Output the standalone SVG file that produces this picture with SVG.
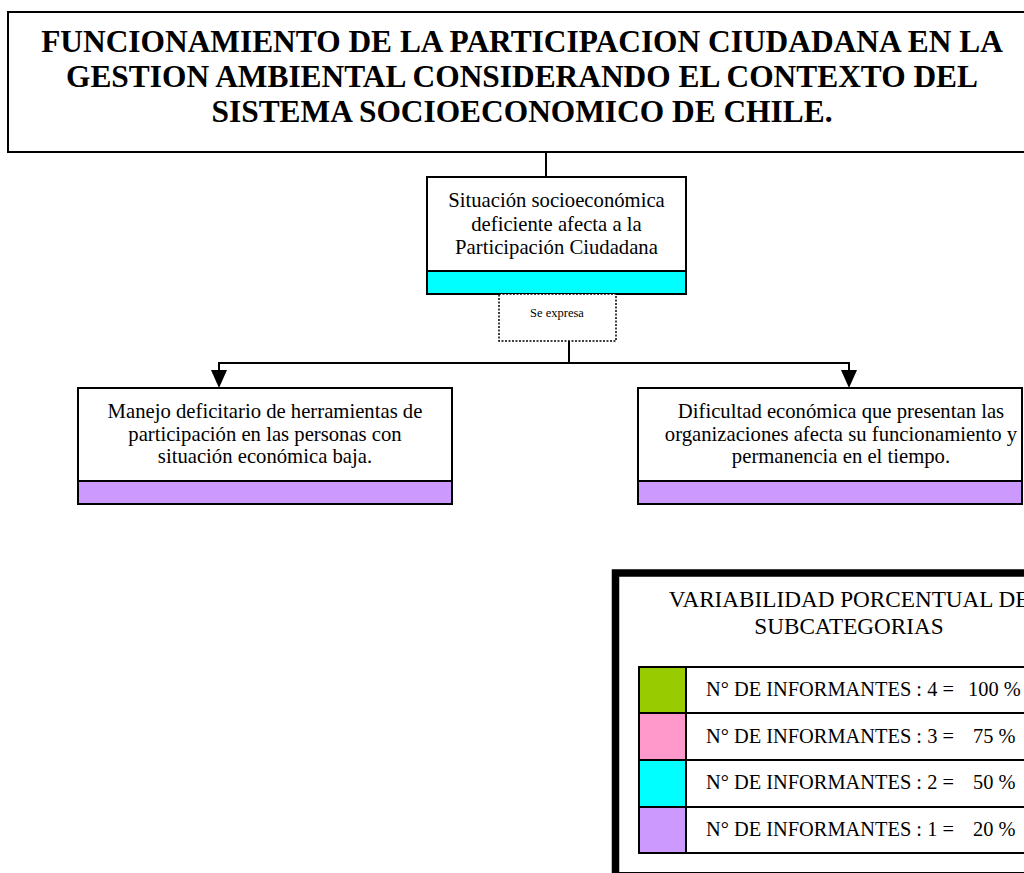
<svg xmlns="http://www.w3.org/2000/svg" width="1024" height="873" viewBox="0 0 1024 873">
<style>
text{font-family:"Liberation Serif","Times New Roman",serif;fill:#000}
.title{font-size:31.4px;font-weight:bold;text-anchor:middle}
.node{font-size:20.7px;text-anchor:middle}
.small{font-size:12.5px;text-anchor:middle}
.leg{font-size:23.2px;text-anchor:middle}
.row{font-size:20.4px}
.box{fill:#fff;stroke:#000;stroke-width:2}
.band{stroke:#000;stroke-width:2}
.line{fill:none;stroke:#000;stroke-width:2}
.cell{stroke:#000;stroke-width:2}
</style>
<rect width="1024" height="873" fill="#fff"/>

<g id="connectors">
<line class="line" x1="546" y1="152" x2="546" y2="177"/>
<line class="line" x1="569" y1="341" x2="569" y2="363"/>
<line class="line" x1="218" y1="363" x2="850" y2="363"/>
<line class="line" x1="219" y1="362" x2="219" y2="372"/>
<line class="line" x1="849" y1="362" x2="849" y2="372"/>
<path d="M211,370 L227,370 L219,388 Z" fill="#000"/>
<path d="M841,370 L857,370 L849,388 Z" fill="#000"/>
</g>

<g id="title">
<rect class="box" x="8" y="12" width="1030" height="140"/>
<text class="title" x="522" y="52">FUNCIONAMIENTO DE LA PARTICIPACION CIUDADANA EN LA</text>
<text class="title" x="522" y="87">GESTION AMBIENTAL CONSIDERANDO EL CONTEXTO DEL</text>
<text class="title" x="522" y="122">SISTEMA SOCIOECONOMICO DE CHILE.</text>
</g>

<g id="situacion">
<rect class="box" x="427" y="177" width="259" height="117"/>
<rect class="band" x="427" y="271" width="259" height="23" fill="#00FFFF"/>
<text class="node" x="556.5" y="207">Situación socioeconómica</text>
<text class="node" x="556.5" y="231">deficiente afecta a la</text>
<text class="node" x="556.5" y="254">Participación Ciudadana</text>
</g>

<g id="se-expresa">
<rect x="499" y="294" width="117" height="47" fill="#fff" stroke="#000" stroke-width="1.5" stroke-dasharray="2,1.5"/>
<text class="small" x="557" y="317">Se expresa</text>
</g>

<g id="manejo">
<rect class="box" x="78" y="388" width="374" height="116"/>
<rect class="band" x="78" y="481" width="374" height="23" fill="#CC99FF"/>
<text class="node" x="265" y="418">Manejo deficitario de herramientas de</text>
<text class="node" x="265" y="441">participación en las personas con</text>
<text class="node" x="265" y="463">situación económica baja.</text>
</g>

<g id="dificultad">
<rect class="box" x="638" y="388" width="384" height="116"/>
<rect class="band" x="638" y="481" width="384" height="23" fill="#CC99FF"/>
<text class="node" x="841" y="418">Dificultad económica que presentan las</text>
<text class="node" x="841" y="441">organizaciones afecta su funcionamiento y</text>
<text class="node" x="841" y="463">permanencia en el tiempo.</text>
</g>

<g id="legend">
<rect x="615.5" y="573" width="500" height="302.75" fill="#fff" stroke="#000" stroke-width="7.5"/>
<text class="leg" x="849" y="607">VARIABILIDAD PORCENTUAL DE</text>
<text class="leg" x="849" y="634">SUBCATEGORIAS</text>
<rect class="cell" x="639" y="667" width="47" height="46" fill="#99CC00"/>
<rect class="cell" x="639" y="713" width="47" height="47" fill="#FF99CC"/>
<rect class="cell" x="639" y="760" width="47" height="47" fill="#00FFFF"/>
<rect class="cell" x="639" y="807" width="47" height="46" fill="#CC99FF"/>
<rect class="cell" x="686" y="667" width="400" height="46" fill="#fff"/>
<rect class="cell" x="686" y="713" width="400" height="47" fill="#fff"/>
<rect class="cell" x="686" y="760" width="400" height="47" fill="#fff"/>
<rect class="cell" x="686" y="807" width="400" height="46" fill="#fff"/>
<text class="row" x="706" y="696">N° DE INFORMANTES : 4 =</text>
<text class="row" x="968" y="696">100 %</text>
<text class="row" x="706" y="743">N° DE INFORMANTES : 3 =</text>
<text class="row" x="973" y="743">75 %</text>
<text class="row" x="706" y="789">N° DE INFORMANTES : 2 =</text>
<text class="row" x="973" y="789">50 %</text>
<text class="row" x="706" y="836">N° DE INFORMANTES : 1 =</text>
<text class="row" x="973" y="836">20 %</text>
</g>
</svg>
